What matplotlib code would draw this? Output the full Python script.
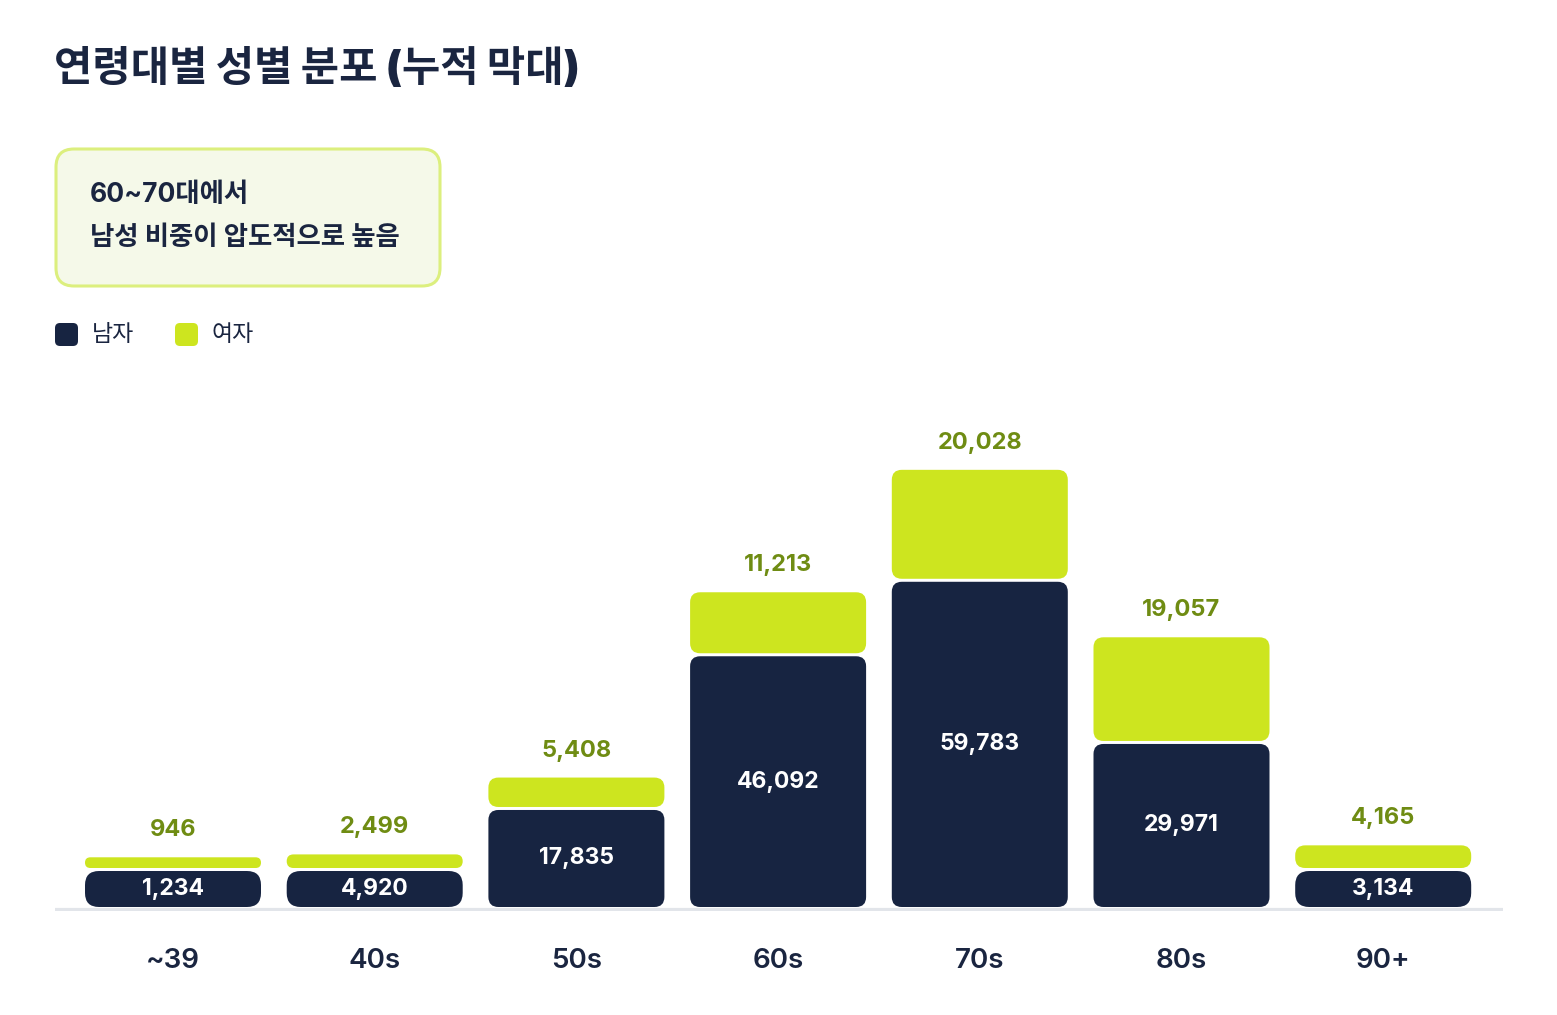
import matplotlib.pyplot as plt
from matplotlib.patches import FancyBboxPatch

plt.rcParams['font.family'] = ['Inter', 'Noto Sans CJK KR', 'DejaVu Sans']
plt.rcParams['axes.unicode_minus'] = False

# 데이터
ages = ['~39', '40s', '50s', '60s', '70s', '80s', '90+']
male = [1234, 4920, 17835, 46092, 59783, 29971, 3134]
female = [946, 2499, 5408, 11213, 20028, 19057, 4165]

NAVY = '#172441'
LIME = '#cde51f'
OLIVE = '#6f8c13'
TEXT = '#1a2540'

W, H = 1557, 1015
fig = plt.figure(figsize=(W / 100, H / 100), dpi=100)

# 픽셀 기준 배치
ax_left, ax_right, ax_bottom, ax_top = 55, 1503, 911, 420
px_per_unit = 0.00544          # y축: 값 1당 픽셀
UNIT = 1 / px_per_unit          # 1픽셀에 해당하는 값
x_px = 201.7                    # 카테고리 간격 (px)

ax = fig.add_axes([ax_left / W, (H - ax_bottom) / H,
                   (ax_right - ax_left) / W, (ax_bottom - ax_top) / H])
x0_off = (173 - ax_left) / x_px
ax.set_xlim(-x0_off, -x0_off + (ax_right - ax_left) / x_px)
ax.set_ylim(-4 * UNIT, (ax_bottom - ax_top - 4) * UNIT)
ax.axis('off')

ax.axhline(-2.2 * UNIT, color='#e2e5ea', lw=2.3, zorder=1)

# 작은 값은 최소 높이로 표시
male_show = [max(v, 36 * UNIT) for v in male]
female_show = [max(v, 10.7 * UNIT) for v in female]
gap = 3 * UNIT
bw = 176 / x_px
xs = list(range(len(ages)))


def rounded_bars(x, heights, bottoms, color):
    bars = ax.bar(x, heights, bottom=bottoms, width=bw, color=color)
    for b in bars:
        bx, by = b.get_x(), b.get_y()
        bwid, bh = b.get_width(), b.get_height()
        h_px = bh / UNIT
        r_px = 14 if h_px < 38 and h_px > 30 else min(10, h_px / 2)
        p = FancyBboxPatch((bx, by), bwid, bh,
                           boxstyle=f'round,pad=0,rounding_size={r_px / x_px}',
                           mutation_aspect=UNIT * x_px,
                           fc=color, ec='none', zorder=2)
        b.remove()
        ax.add_patch(p)


rounded_bars(xs, male_show, [0] * len(xs), NAVY)
f_bottom = [m + gap for m in male_show]
rounded_bars(xs, female_show, f_bottom, LIME)

for i in xs:
    ax.text(i, male_show[i] / 2, f'{male[i]:,}', ha='center', va='center',
            color='white', fontsize=16.5, fontweight='bold', zorder=3)
    ax.annotate(f'{female[i]:,}', (i, f_bottom[i] + female_show[i]),
                xytext=(0, 19.4), textcoords='offset points',
                ha='center', va='center', color=OLIVE,
                fontsize=17, fontweight='bold')

# 오버레이 (픽셀 좌표)
ov = fig.add_axes([0, 0, 1, 1], zorder=-1)
ov.set_xlim(0, W)
ov.set_ylim(H, 0)
ov.axis('off')

for i, lab in enumerate(ages):
    ov.text(173 + i * x_px, 961, lab, ha='center', va='center',
            color=TEXT, fontsize=20, fontweight='semibold')

ov.text(54, 68, '연령대별 성별 분포 (누적 막대)', ha='left', va='center',
        color=TEXT, fontsize=30, fontweight='black')

ov.add_patch(FancyBboxPatch((56, 149), 384, 137,
                            boxstyle='round,pad=0,rounding_size=18',
                            fc='#f5f9e9', ec='#dcef7e', lw=2.2))
ov.text(90, 195, '60~70대에서', ha='left', va='center',
        color=TEXT, fontsize=19, fontweight='bold')
ov.text(90, 238, '남성 비중이 압도적으로 높음', ha='left', va='center',
        color=TEXT, fontsize=19, fontweight='bold')

for lx, col, lab in [(55, NAVY, '남자'), (175, LIME, '여자')]:
    ov.add_patch(FancyBboxPatch((lx, 323), 23, 23,
                                boxstyle='round,pad=0,rounding_size=5',
                                fc=col, ec='none'))
    ov.text(lx + 37, 335, lab, ha='left', va='center',
            color=TEXT, fontsize=16.5, fontweight='medium')

plt.savefig('out.png', dpi=100)
plt.close()
